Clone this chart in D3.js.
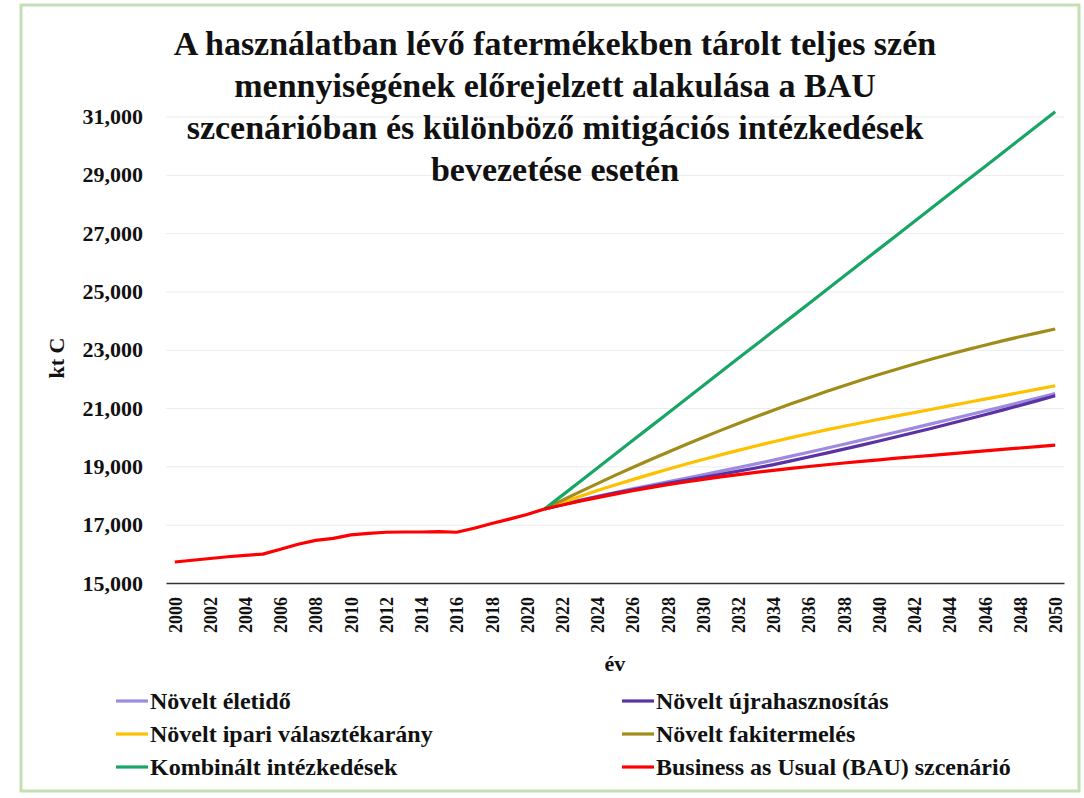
<!DOCTYPE html>
<html>
<head>
<meta charset="utf-8">
<script src="https://cdn.jsdelivr.net/npm/d3@7"></script>
<style>
    body { margin: 0; background: #fff; }
    text { font-family: "Liberation Serif", "Times New Roman", serif; font-weight: bold; fill: #111; }
</style>
</head>
<body>
<div id="chart_div"></div>
<script>
// years on the category axis
const years = [2000, 2001, 2002, 2003, 2004, 2005, 2006, 2007, 2008, 2009,
    2010, 2011, 2012, 2013, 2014, 2015, 2016, 2017, 2018, 2019,
    2020, 2021, 2022, 2023, 2024, 2025, 2026, 2027, 2028, 2029,
    2030, 2031, 2032, 2033, 2034, 2035, 2036, 2037, 2038, 2039,
    2040, 2041, 2042, 2043, 2044, 2045, 2046, 2047, 2048, 2049, 2050];
const x_tick_labels = [2000, 2002, 2004, 2006, 2008, 2010, 2012, 2014, 2016, 2018, 2020, 2022, 2024,
    2026, 2028, 2030, 2032, 2034, 2036, 2038, 2040, 2042, 2044, 2046, 2048, 2050];
const y_tick_labels = [15000, 17000, 19000, 21000, 23000, 25000, 27000, 29000, 31000];

// BAU: 2000 - 2050
const bau_values = [15720, 15780, 15840, 15900, 15950, 15990, 16160, 16330, 16460, 16530,
    16650, 16700, 16740, 16750, 16750, 16760, 16740, 16880, 17040, 17190,
    17350, 17540, 17675, 17805, 17930, 18050, 18165, 18270, 18370, 18465,
    18555, 18640, 18720, 18795, 18865, 18930, 18995, 19055, 19115, 19170,
    19225, 19280, 19330, 19380, 19430, 19480, 19530, 19580, 19630, 19680, 19730];

// mitigation scenarios: 2021 - 2050
const eletido_values = [17540, 17690, 17835, 17975, 18105, 18230, 18350, 18470, 18590, 18710,
    18835, 18960, 19085, 19215, 19350, 19485, 19620, 19760, 19900, 20040,
    20180, 20320, 20465, 20610, 20755, 20900, 21045, 21195, 21345, 21500];
const ujrahasznositas_values = [17540, 17685, 17825, 17960, 18085, 18200, 18310, 18415, 18520, 18625,
    18730, 18835, 18945, 19060, 19190, 19320, 19455, 19590, 19730, 19870,
    20015, 20160, 20310, 20460, 20615, 20770, 20930, 21090, 21255, 21420];
const ipari_values = [17540, 17760, 17970, 18170, 18360, 18545, 18725, 18900, 19070, 19235,
    19395, 19550, 19700, 19845, 19985, 20120, 20250, 20375, 20495, 20615,
    20730, 20845, 20960, 21075, 21190, 21305, 21420, 21535, 21650, 21765];
const fakitermeles_values = [17540, 17835, 18125, 18410, 18690, 18960, 19225, 19485, 19740, 19990,
    20235, 20470, 20700, 20925, 21145, 21355, 21565, 21765, 21960, 22150,
    22330, 22510, 22680, 22845, 23005, 23155, 23305, 23445, 23580, 23710];
const kombinalt_values = [17540, 18005, 18475, 18945, 19415, 19885, 20355, 20825, 21295, 21765,
    22235, 22705, 23170, 23640, 24110, 24580, 25050, 25520, 25990, 26460,
    26930, 27400, 27870, 28340, 28810, 29280, 29750, 30220, 30690, 31160];

const series_names = ["Növelt életidő", "Növelt újrahasznosítás", "Növelt ipari választékarány",
    "Növelt fakitermelés", "Kombinált intézkedések", "Business as Usual (BAU) szcenárió"];

const title_lines = ["A használatban lévő fatermékekben tárolt teljes szén",
    "mennyiségének előrejelzett alakulása a BAU",
    "szcenárióban és különböző mitigációs intézkedések",
    "bevezetése esetén"];

function build_series() {
    const scenario_years = years.slice(years.indexOf(2021));
    const values = [eletido_values, ujrahasznositas_values, ipari_values,
        fakitermeles_values, kombinalt_values, bau_values];
    const colors = ["#9d8be0", "#5a32a3", "#ffc000", "#a08c18", "#18a566", "#ff0000"];
    return series_names.map(function (name, i) {
        const yrs = values[i].length === years.length ? years : scenario_years;
        return {
            "name": name,
            "color": colors[i],
            "points": values[i].map(function (v, j) {
                return {"year": yrs[j], "value": v};
            })
        };
    });
}

function show_chart(div_container) {
    const width = 1084, height = 798;
    const plot = {left: 166, right: 1064, top: 116.5, bottom: 583};

    const svg = d3.select("#" + div_container)
        .append("svg")
        .attr("width", width)
        .attr("height", height);

    // light green frame round the whole chart
    svg.append("rect")
        .attr("x", 21).attr("y", 5)
        .attr("width", 1058).attr("height", 786)
        .attr("fill", "#fff")
        .attr("stroke", "#c5dfb5")
        .attr("stroke-width", 3);

    const x = d3.scalePoint()
        .domain(years)
        .range([plot.left, plot.right])
        .padding(0.5);
    const y = d3.scaleLinear()
        .domain([15000, 31000])
        .range([plot.bottom, plot.top]);

    // gridlines
    const grid = svg.append("g")
        .attr("transform", `translate(${plot.left}, 0)`)
        .call(d3.axisLeft(y).tickValues(y_tick_labels).tickSize(-(plot.right - plot.left)).tickFormat(""));
    grid.select(".domain").remove();
    grid.selectAll("line").attr("stroke", "#ececec");

    // y axis labels
    const y_axis = svg.append("g")
        .attr("transform", `translate(${plot.left}, 0)`)
        .call(d3.axisLeft(y).tickValues(y_tick_labels).tickSize(0).tickPadding(23).tickFormat(d3.format(",")));
    y_axis.select(".domain").remove();
    y_axis.selectAll("text")
        .style("font-size", "22px");

    // x axis
    const x_axis = svg.append("g")
        .attr("transform", `translate(0, ${plot.bottom})`)
        .call(d3.axisBottom(x).tickValues(x_tick_labels).tickSize(0).tickSizeOuter(0));
    x_axis.select(".domain")
        .attr("stroke", "#333")
        .attr("stroke-width", 1.4);
    x_axis.selectAll("text")
        .attr("transform", "rotate(-90)")
        .attr("text-anchor", "end")
        .attr("x", -14)
        .attr("y", 0)
        .attr("dy", "0.35em")
        .style("font-size", "18px");
    x_axis.attr("font-family", null);
    y_axis.attr("font-family", null);

    // axis titles
    svg.append("text")
        .attr("x", (plot.left + plot.right) / 2)
        .attr("y", 671)
        .attr("text-anchor", "middle")
        .style("font-size", "22px")
        .text("év");
    svg.append("text")
        .attr("transform", "translate(64, 358) rotate(-90)")
        .attr("text-anchor", "middle")
        .style("font-size", "22px")
        .text("kt C");

    // lines
    const series = build_series();
    const line = d3.line()
        .x(function (d) { return x(d.year); })
        .y(function (d) { return y(d.value); });
    svg.append("g")
        .selectAll("path")
        .data(series)
        .join("path")
        .attr("fill", "none")
        .attr("stroke", function (d) { return d.color; })
        .attr("stroke-width", 3.2)
        .attr("stroke-linejoin", "round")
        .attr("d", function (d) { return line(d.points); });

    // title
    svg.append("g")
        .selectAll("text")
        .data(title_lines)
        .join("text")
        .attr("x", 555)
        .attr("y", function (d, i) { return 55 + i * 42; })
        .attr("text-anchor", "middle")
        .style("font-size", "34px")
        .text(function (d) { return d; });

    // legend, two columns
    const legend = svg.append("g")
        .selectAll("g")
        .data(series)
        .join("g")
        .attr("transform", function (d, i) {
            return `translate(${i % 2 === 0 ? 116 : 622}, ${701 + Math.floor(i / 2) * 33})`;
        });
    legend.append("line")
        .attr("x1", 0).attr("x2", 32)
        .attr("stroke", function (d) { return d.color; })
        .attr("stroke-width", 3.2);
    legend.append("text")
        .attr("x", 34)
        .attr("dy", "0.35em")
        .style("font-size", "24px")
        .text(function (d) { return d.name; });
}

show_chart("chart_div");
</script>
</body>
</html>
